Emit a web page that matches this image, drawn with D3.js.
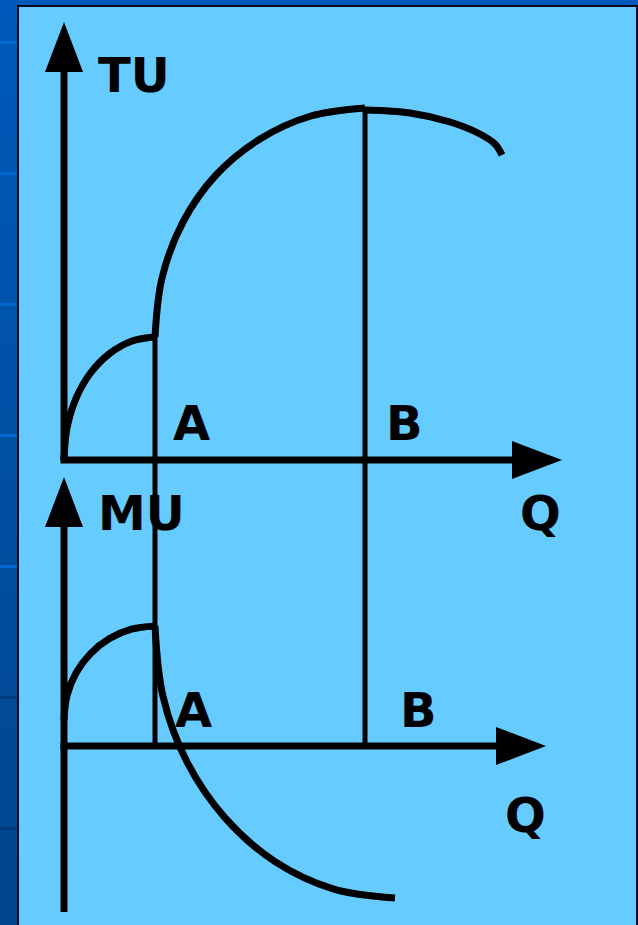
<!DOCTYPE html>
<html>
<head>
<meta charset="utf-8">
<script src="https://cdn.jsdelivr.net/npm/d3@7"></script>
<style>
  html, body { margin: 0; padding: 0; background: #0052a8; }
  svg { display: block; }
</style>
</head>
<body>
<div id="viz"></div>
<script>
// Quantity (Q) and utility readings for each curve segment
const tuRiseQ  = [0, 0.06, 0.24, 0.53, 0.91, 1.35, 1.82];
const tuRiseU  = [0, 7.95, 15.4, 21.75, 26.6, 29.7, 30.75];
const tuClimbQ = [1.82, 1.96, 2.38, 3.04, 3.92, 4.94, 6.02];
const tuClimbU = [30.75, 45.5, 59.5, 71.25, 80.25, 86, 88];
const tuFallQ  = [6.02, 6.92, 7.72, 8.28, 8.62, 8.76];
const tuFallU  = [87.5, 86.75, 84.5, 81.75, 79, 76.25];

const muRiseQ  = [0, 0.06, 0.24, 0.53, 0.91, 1.35, 1.82];
const muRiseU  = [6.5, 12.6, 18.25, 23.1, 26.85, 29.2, 30];
const muFallQ  = [1.82, 1.98, 2.46, 3.23, 4.22, 5.38, 6.62];
const muFallU  = [30, 12.4, -4, -18.1, -28.9, -35.7, -38];

const pointA = 1.82;
const pointB = 6.02;
const tuAtA = 30.75, tuAtB = 88;

// axis extents (data units)
const tuAxisTop = 109.5, tuAxisEnd = 9.96;
const muAxisTop = 67.25, muAxisBottom = -41.5, muAxisEnd = 9.64;

const width = 638, height = 925;

const svg = d3.select("#viz").append("svg")
    .attr("width", width)
    .attr("height", height);

// background: left blue strip with stripes, framed light panel
const grad = svg.append("defs").append("linearGradient")
    .attr("id", "strip").attr("x1", 0).attr("y1", 0).attr("x2", 0).attr("y2", 1);
grad.append("stop").attr("offset", "0%").attr("stop-color", "#005abb");
grad.append("stop").attr("offset", "100%").attr("stop-color", "#00458c");

svg.append("rect").attr("width", width).attr("height", height).attr("fill", "url(#strip)");

d3.range(41, height, 131).forEach(function(sy, i) {
    svg.append("rect")
        .attr("x", 0).attr("y", sy)
        .attr("width", 17).attr("height", 3)
        .attr("fill", i < 5 ? "#0068d0" : "#003d7c");
});

svg.append("rect")
    .attr("x", 18).attr("y", 6)
    .attr("width", width - 19).attr("height", height)
    .attr("fill", "#66ccff")
    .attr("stroke", "#0a0a1a")
    .attr("stroke-width", 2);

// scales
const x = d3.scaleLinear().domain([0, 10]).range([64, 564]);
const yTU = d3.scaleLinear().domain([0, 100]).range([460, 60]);
const yMU = d3.scaleLinear().domain([0, 100]).range([746, 346]);

const g = svg.append("g");

function arrowUp(px, py) {
    return "M" + px + "," + py + "L" + (px - 19) + "," + (py + 50) + "L" + (px + 19) + "," + (py + 50) + "Z";
}
function arrowRight(px, py) {
    return "M" + px + "," + py + "L" + (px - 50) + "," + (py - 19) + "L" + (px - 50) + "," + (py + 19) + "Z";
}

function drawAxes(y, top, bottom, end) {
    g.append("line")
        .attr("x1", x(0)).attr("y1", y(bottom))
        .attr("x2", x(0)).attr("y2", y(top) + 40)
        .attr("stroke", "#000").attr("stroke-width", 7);
    g.append("path").attr("d", arrowUp(x(0), y(top))).attr("fill", "#000");
    g.append("line")
        .attr("x1", x(0) - 3.5).attr("y1", y(0))
        .attr("x2", x(end) - 40).attr("y2", y(0))
        .attr("stroke", "#000").attr("stroke-width", 7);
    g.append("path").attr("d", arrowRight(x(end), y(0))).attr("fill", "#000");
}

drawAxes(yTU, tuAxisTop, 0, tuAxisEnd);
drawAxes(yMU, muAxisTop, muAxisBottom, muAxisEnd);

// guide lines at A and B
[[pointA, tuAtA], [pointB, tuAtB]].forEach(function(d) {
    g.append("line")
        .attr("x1", x(d[0])).attr("y1", yTU(d[1]))
        .attr("x2", x(d[0])).attr("y2", yMU(0))
        .attr("stroke", "#000").attr("stroke-width", 5);
});

// curves
function drawCurve(qs, us, y) {
    const pts = qs.map(function(q, i) { return [q, us[i]]; });
    const line = d3.line()
        .x(function(d) { return x(d[0]); })
        .y(function(d) { return y(d[1]); })
        .curve(d3.curveCatmullRom.alpha(0.5));
    g.append("path")
        .attr("d", line(pts))
        .attr("fill", "none")
        .attr("stroke", "#000")
        .attr("stroke-width", 7);
}

drawCurve(tuRiseQ, tuRiseU, yTU);
drawCurve(tuClimbQ, tuClimbU, yTU);
drawCurve(tuFallQ, tuFallU, yTU);
drawCurve(muRiseQ, muRiseU, yMU);
drawCurve(muFallQ, muFallU, yMU);

// labels
const labels = [
    {t: "TU", x: 98, y: 92},
    {t: "A", x: 173, y: 440},
    {t: "B", x: 386, y: 440},
    {t: "Q", x: 520, y: 530},
    {t: "MU", x: 98, y: 530},
    {t: "A", x: 175, y: 727},
    {t: "B", x: 400, y: 727},
    {t: "Q", x: 505, y: 832}
];

g.selectAll(".lbl").data(labels).enter().append("text")
    .attr("class", "lbl")
    .attr("x", function(d) { return d.x; })
    .attr("y", function(d) { return d.y; })
    .attr("font-family", "DejaVu Sans")
    .attr("font-weight", "bold")
    .attr("font-size", 48)
    .attr("fill", "#000")
    .text(function(d) { return d.t; });
</script>
</body>
</html>
